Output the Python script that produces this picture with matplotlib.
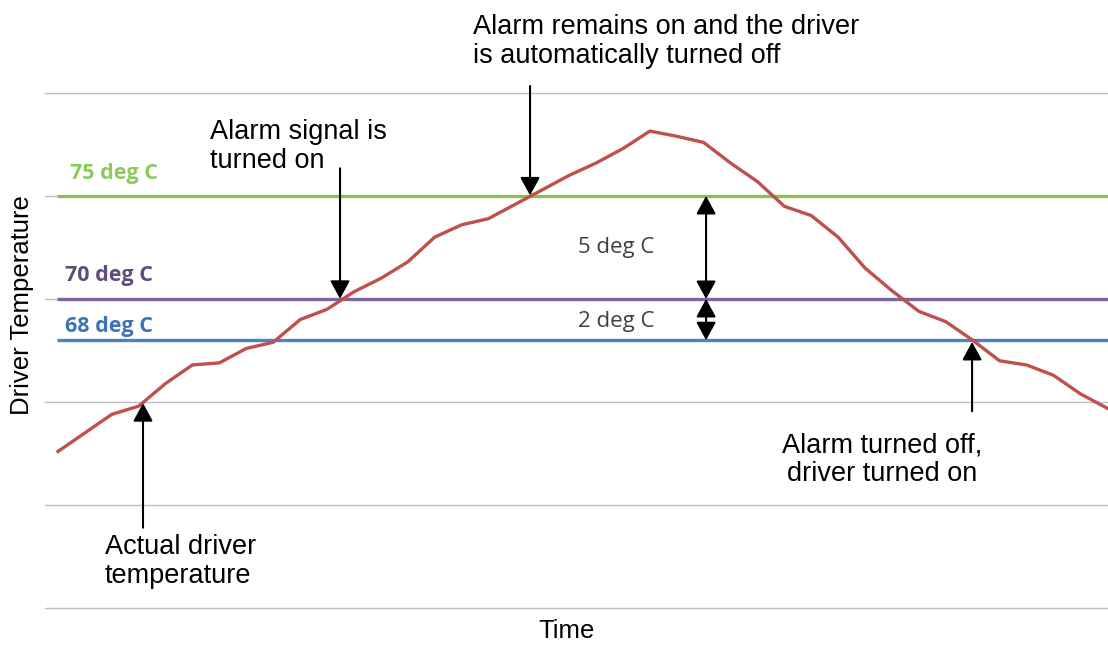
import matplotlib.pyplot as plt
import numpy as np

# Temperature readings (deg C), one per time step
temps = [62.6, 63.5, 64.4, 64.8, 65.9, 66.8, 66.9, 67.6, 67.9, 69.0,
         69.5, 70.35, 71.0, 71.8, 73.0, 73.6, 73.9, 74.6, 75.3, 76.0,
         76.6, 77.3, 78.15, 77.9, 77.6, 76.6, 75.7, 74.5, 74.05, 73.0,
         71.5, 70.4, 69.4, 68.9, 68.0, 67.0, 66.8, 66.3, 65.4, 64.7]
time_idx = np.arange(len(temps))

thresholds = [75, 70, 68]
threshold_labels = ['75 deg C', '70 deg C', '68 deg C']
line_colors = ['#8DC04F', '#8064A2', '#4F81BD']
label_colors = ['#8CCB5A', '#5F4B7C', '#3C73B8']
grid_levels = [55, 60, 65, 70, 75, 80]

W, H = 1108, 649
fig = plt.figure(figsize=(W / 100, H / 100), dpi=100)
ax = fig.add_axes([45 / W, 1 - 608 / H, 1 - 45 / W, (608 - 93) / H])

x0, x1 = -0.483, 39.03
ax.set_xlim(x0, x1)
ax.set_ylim(55, 80)

# gray gridlines
for g in grid_levels:
    ax.axhline(g, color='#BFBFBF', lw=1.0, zorder=1, clip_on=False)

# threshold lines
for t, c in zip(thresholds, line_colors):
    ax.hlines(t, -0.03, x1, color=c, lw=2.4, zorder=2)

# actual temperature
ax.plot(time_idx, temps, color='#C0504D', lw=2.4, zorder=3, clip_on=False)

for s in ax.spines.values():
    s.set_visible(False)
ax.set_xticks([])
ax.set_yticks([])

# threshold labels
lbl_pos = [(70, 173), (65, 276), (65, 326)]
for (px, py), txt, c in zip(lbl_pos, threshold_labels, label_colors):
    fig.text(px / W, 1 - py / H, txt, color=c, fontsize=15.5, fontweight='bold',
             family='Open Sans', va='center', ha='left')

arrow = dict(arrowstyle='-|>,head_length=0.55,head_width=0.3', color='black',
             lw=1.5, shrinkA=0, shrinkB=0, mutation_scale=20)
dbl = dict(arrowstyle='<|-|>,head_length=0.55,head_width=0.3', color='black',
           lw=1.5, shrinkA=0, shrinkB=0, mutation_scale=20)

def px2data(px, py):
    return ((px - 58) / 26.9, 80 - (py - 93) / 20.52)

# single arrows
for (sx, sy), (ex, ey) in [((340, 168), (340, 298)), ((530, 86), (530, 195)),
                           ((143, 526), (143, 402)), ((972, 410), (972, 341))]:
    ax.annotate('', xy=px2data(ex, ey), xytext=px2data(sx, sy),
                arrowprops=arrow, annotation_clip=False)

# double arrows between thresholds
ax.annotate('', xy=(24.09, 70), xytext=(24.09, 75), arrowprops=dbl)
ax.annotate('', xy=(24.09, 68), xytext=(24.09, 70), arrowprops=dbl)
fig.text(616 / W, 1 - 248 / H, '5 deg C', color='#404040', fontsize=16,
         family='Open Sans', ha='center', va='center')
fig.text(616 / W, 1 - 321 / H, '2 deg C', color='#404040', fontsize=16,
         family='Open Sans', ha='center', va='center')

main = dict(fontsize=19.5, family='Liberation Sans', color='black', linespacing=1.15)
fig.text(473 / W, 1 - 63 / H, 'Alarm remains on and the driver\nis automatically turned off',
         ha='left', va='baseline', **main)
fig.text(210 / W, 1 - 168 / H, 'Alarm signal is\nturned on', ha='left', va='baseline', **main)
fig.text(105 / W, 1 - 583 / H, 'Actual driver\ntemperature', ha='left', va='baseline', **main)
fig.text(882 / W, 1 - 481 / H, 'Alarm turned off,\ndriver turned on', ha='center',
         va='baseline', multialignment='center', **main)

fig.text(22 / W, 1 - 305 / H, 'Driver Temperature', rotation=90, ha='center', va='center',
         fontsize=18.5, family='Liberation Sans')
fig.text(567 / W, 1 - 631 / H, 'Time', ha='center', va='center', fontsize=18.5,
         family='Liberation Sans')

fig.savefig('out.png', dpi=100)
